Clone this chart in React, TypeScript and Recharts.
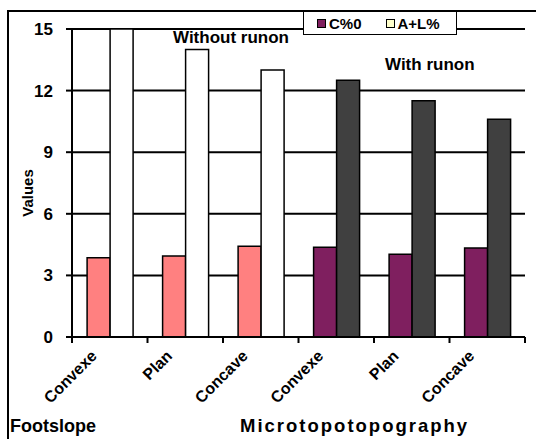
import { BarChart, Bar, XAxis, YAxis, CartesianGrid, Cell } from 'recharts';

const categories = ['Convexe', 'Plan', 'Concave', 'Convexe', 'Plan', 'Concave'];
const cValues = [3.86, 3.94, 4.42, 4.37, 4.03, 4.33];
const alValues = [15, 14, 13, 12.5, 11.5, 10.6];
const yTicks = [0, 3, 6, 9, 12, 15];

const cColors = ['#FF8080', '#FF8080', '#FF8080', '#7F1F5F', '#7F1F5F', '#7F1F5F'];
const alColors = ['#FFFFFF', '#FFFFFF', '#FFFFFF', '#404040', '#404040', '#404040'];

const W = 536;
const H = 439;
const MARGIN = { top: 29, right: 11, left: 0, bottom: 0 };
const Y_W = 72;
const X_H = 102;
const BAND = (W - MARGIN.left - MARGIN.right - Y_W) / categories.length;
const FONT = '"Liberation Sans", Arial, sans-serif';

const data = categories.map((name, i) => ({ name, c: cValues[i], al: alValues[i] }));

// ticks sit on the category boundaries, labels are rotated
// eslint-disable-next-line @typescript-eslint/no-explicit-any
const XTick = (props: any) => {
  const { x, y, payload, index } = props;
  const half = BAND / 2;
  const last = index === categories.length - 1;
  return (
    <g>
      <line x1={x - half} x2={x - half} y1={y} y2={y + 6} stroke="#000" strokeWidth={2} />
      {last && <line x1={x + half} x2={x + half} y1={y} y2={y + 6} stroke="#000" strokeWidth={2} />}
      <g transform={`translate(${x - 12},${y + 20})`}>
        <text
          x={0}
          y={0}
          transform="rotate(-45)"
          textAnchor="end"
          fontSize={16}
          fontWeight="bold"
          fontFamily={FONT}
          fill="#000"
        >
          {payload.value}
        </text>
      </g>
    </g>
  );
};

export default function App() {
  return (
    <div style={{ position: 'absolute', left: 0, top: 0, width: W, height: H, background: '#fff', overflow: 'hidden' }}>
      <div
        style={{
          position: 'absolute',
          left: 7,
          top: 10,
          width: W,
          height: H,
          borderLeft: '2px solid #000',
          borderTop: '2px solid #000',
        }}
      />
      <div style={{ position: 'absolute', left: 0, top: 0 }}>
        <BarChart width={W} height={H} data={data} margin={MARGIN} barCategoryGap="20%" barGap={0}>
          <CartesianGrid vertical={false} stroke="#000" strokeWidth={2} />
          <XAxis
            dataKey="name"
            height={X_H}
            interval={0}
            tickSize={0}
            tickMargin={0}
            axisLine={{ stroke: '#000', strokeWidth: 2 }}
            tickLine={false}
            tick={<XTick />}
          />
          <YAxis
            width={Y_W}
            domain={[0, 15]}
            ticks={yTicks}
            allowDataOverflow
            tickSize={6}
            tickMargin={13}
            axisLine={{ stroke: '#000', strokeWidth: 2 }}
            tickLine={{ stroke: '#000', strokeWidth: 2 }}
            tick={{ fill: '#000', fontSize: 17, fontWeight: 'bold', fontFamily: FONT }}
          />
          <Bar dataKey="c" name="C%0" stroke="#000" strokeWidth={1.5} isAnimationActive={false}>
            {data.map((_, i) => (
              <Cell key={i} fill={cColors[i]} stroke="#000" />
            ))}
          </Bar>
          <Bar dataKey="al" name="A+L%" stroke="#000" strokeWidth={1.5} isAnimationActive={false}>
            {data.map((_, i) => (
              <Cell key={i} fill={alColors[i]} stroke="#000" />
            ))}
          </Bar>
        </BarChart>
      </div>
      <div
        style={{
          position: 'absolute',
          left: 303,
          top: 11,
          width: 152,
          height: 22,
          border: '1px solid #000',
          background: '#fff',
          display: 'flex',
          alignItems: 'center',
          fontFamily: FONT,
          fontWeight: 'bold',
          fontSize: 15,
          color: '#000',
        }}
      >
        <span style={{ width: 7, height: 7, background: '#7F1F5F', border: '1px solid #000', marginLeft: 13, marginRight: 3 }} />
        <span>C%0</span>
        <span style={{ width: 7, height: 7, background: '#FFFFCC', border: '1px solid #000', marginLeft: 24, marginRight: 3 }} />
        <span>A+L%</span>
      </div>
      <svg
        width={W}
        height={H}
        style={{ position: 'absolute', left: 0, top: 0, pointerEvents: 'none' }}
        fontFamily={FONT}
        fontWeight="bold"
        fill="#000"
      >
        <text x={173} y={43} fontSize={17}>Without runon</text>
        <text x={385} y={70} fontSize={17}>With runon</text>
        <text x={33} y={193} fontSize={15} textAnchor="middle" transform="rotate(-90 33 193)">Values</text>
        <text x={10} y={432} fontSize={18}>Footslope</text>
        <text x={240} y={432} fontSize={18.5} letterSpacing={2}>Microtopotopography</text>
      </svg>
    </div>
  );
}
